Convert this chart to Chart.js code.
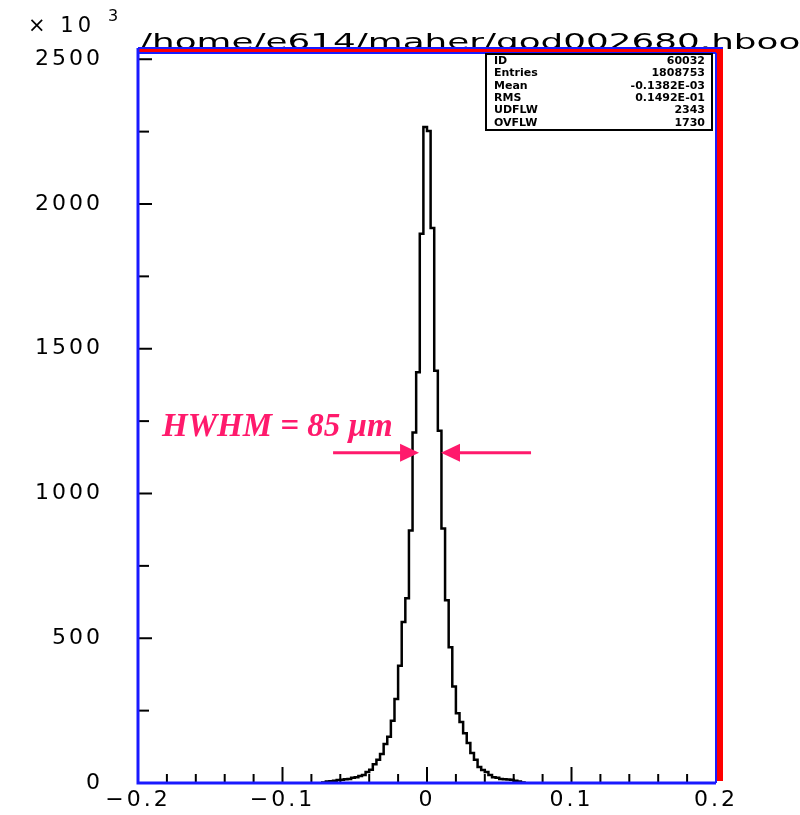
<!DOCTYPE html>
<html>
<head>
<meta charset="utf-8">
<script src="https://cdn.jsdelivr.net/npm/chart.js@4/dist/chart.umd.min.js"></script>
<style>
    html, body { margin: 0; padding: 0; background: #ffffff; overflow: hidden; }
    canvas { display: block; }
</style>
</head>
<body>
<canvas id="grafico1" width="800" height="815"></canvas>
<script>
// histograma: bines de 0.0025, desde el primer bin con entradas (x 10^3)
const binInicio = -0.0725;
const anchoBin = 0.0025;
const conteos = [
    2, 5, 6, 8, 10, 11, 13, 14, 18, 20, 24, 28, 38, 46, 65, 80, 100, 135, 160, 215,
    290, 405, 556, 638, 872, 1211, 1419, 1897, 2266,
    2252, 1917, 1424, 1217, 879, 631, 469, 333, 241, 211, 172, 138, 104, 80, 55,
    45, 38, 28, 20, 18, 14, 13, 12, 11, 8, 5, 2
];

const ticksX = [-0.2, -0.1, 0, 0.1, 0.2];
const ticksY = [0, 500, 1000, 1500, 2000, 2500];

const titulo = "/home/e614/maher/god002680.hbook";
const statsNombres = ["ID", "Entries", "Mean", "RMS", "UDFLW", "OVFLW"];
const statsValores = ["60032", "1808753", "-0.1382E-03", "0.1492E-01", "2343", "1730"];
const anotacion = "HWHM = 85 \u03bcm";

class Histograma {
    constructor(){
        console.log("histograma instanciado");
        this.puntos = [];
    }

    init(){
        this.armar_puntos();
        this.grafico();
    }

    armar_puntos(){
        // puntos en el borde izquierdo de cada bin, linea escalonada
        let puntos = [{x: binInicio, y: 0}];
        conteos.forEach((c, i) => {
            puntos.push({x: binInicio + i * anchoBin, y: c});
        });
        let fin = binInicio + conteos.length * anchoBin;
        puntos.push({x: fin, y: conteos[conteos.length - 1]});
        puntos.push({x: fin, y: 0});
        this.puntos = puntos;
    }

    grafico(){
        const azul = "#1a1aff";
        const rojo = "#ff0000";
        const rosa = "#ff1a6c";

        const espaciado = {
            id: "espaciado",
            beforeDraw(chart){ chart.ctx.letterSpacing = "3px"; },
            beforeDatasetsDraw(chart){ chart.ctx.letterSpacing = "0px"; }
        };

        const marco = {
            id: "marco",
            afterDraw(chart){
                const ctx = chart.ctx;
                const a = chart.chartArea;
                const sx = chart.scales.x, sy = chart.scales.y;
                ctx.save();

                // titulo (archivo hbook)
                ctx.font = '22px "DejaVu Sans"';
                ctx.fillStyle = "#000";
                ctx.textBaseline = "alphabetic";
                ctx.textAlign = "left";
                let w = ctx.measureText(titulo).width;
                ctx.save();
                ctx.translate(a.left + 2, a.top - 3);
                ctx.scale(681 / w, 0.95);
                ctx.fillText(titulo, 0, 0);
                ctx.restore();

                // x 10^3
                ctx.letterSpacing = "4px";
                ctx.font = '21px "DejaVu Sans"';
                ctx.fillText("\u00d7 10", 28, 32);
                ctx.font = '16px "DejaVu Sans"';
                ctx.fillText("3", 108, 21);
                ctx.letterSpacing = "0px";

                // marcas de ejes
                ctx.strokeStyle = "#000";
                ctx.lineWidth = 2;
                for (let i = -10; i <= 10; i++){
                    let px = sx.getPixelForValue(i * 0.02);
                    let largo = (i % 5 === 0) ? 16 : 9;
                    ctx.beginPath();
                    ctx.moveTo(px, a.bottom);
                    ctx.lineTo(px, a.bottom - largo);
                    ctx.stroke();
                }
                for (let i = 0; i <= 10; i++){
                    let py = sy.getPixelForValue(i * 250);
                    let largo = (i % 2 === 0) ? 14 : 11;
                    ctx.beginPath();
                    ctx.moveTo(a.left, py);
                    ctx.lineTo(a.left + largo, py);
                    ctx.stroke();
                }

                // marco rojo / azul
                ctx.fillStyle = rojo;
                ctx.fillRect(a.left, a.top - 4, a.right - a.left + 7, 5);
                ctx.fillRect(a.right, a.top - 4, 7, a.bottom - a.top + 2);
                ctx.strokeStyle = azul;
                ctx.lineWidth = 2;
                ctx.beginPath();
                ctx.moveTo(a.left, a.top - 4); ctx.lineTo(a.right + 7, a.top - 4);
                ctx.moveTo(a.left, a.top + 1); ctx.lineTo(a.right, a.top + 1);
                ctx.moveTo(a.right, a.top + 1); ctx.lineTo(a.right, a.bottom);
                ctx.stroke();
                ctx.lineWidth = 3;
                ctx.beginPath();
                ctx.moveTo(a.left, a.top - 4); ctx.lineTo(a.left, a.bottom);
                ctx.lineTo(a.right, a.bottom);
                ctx.stroke();

                // caja de estadisticas
                const bx = 486, by = a.top + 2, bw = 226, bh = 76;
                ctx.fillStyle = "#fff";
                ctx.fillRect(bx, by, bw, bh);
                ctx.strokeStyle = "#000";
                ctx.lineWidth = 2;
                ctx.strokeRect(bx, by, bw, bh);
                ctx.fillStyle = "#000";
                ctx.font = 'bold 11px "DejaVu Sans"';
                ctx.textBaseline = "middle";
                statsNombres.forEach((n, i) => {
                    let yy = by + 7 + i * 12.4;
                    ctx.textAlign = "left";
                    ctx.fillText(n, bx + 8, yy);
                    ctx.textAlign = "right";
                    ctx.fillText(statsValores[i], bx + bw - 7, yy);
                });

                // anotacion HWHM con flechas
                ctx.fillStyle = rosa;
                ctx.strokeStyle = rosa;
                ctx.textAlign = "left";
                ctx.textBaseline = "alphabetic";
                ctx.font = 'italic bold 33px "Liberation Serif"';
                ctx.fillText(anotacion, sx.getPixelForValue(-0.1834), sy.getPixelForValue(1200));
                let ya = sy.getPixelForValue(1141);
                const flecha = (cola, punta) => {
                    let x0 = sx.getPixelForValue(cola), x1 = sx.getPixelForValue(punta);
                    let dir = Math.sign(x1 - x0);
                    ctx.lineWidth = 3;
                    ctx.beginPath();
                    ctx.moveTo(x0, ya);
                    ctx.lineTo(x1 - dir * 12, ya);
                    ctx.stroke();
                    ctx.beginPath();
                    ctx.moveTo(x1, ya);
                    ctx.lineTo(x1 - dir * 19, ya - 9);
                    ctx.lineTo(x1 - dir * 19, ya + 9);
                    ctx.closePath();
                    ctx.fill();
                };
                flecha(-0.065, -0.0055);
                flecha(0.072, 0.0097);

                ctx.restore();
            }
        };

        const fmt = v => (v < 0 ? "\u2212" + Math.abs(v) : String(v));

        new Chart(document.getElementById("grafico1"), {
            type: "line",
            data: {
                datasets: [
                    {
                        label: "god002680",
                        data: this.puntos,
                        stepped: "before",
                        borderColor: "#000000",
                        borderWidth: 2.5,
                        pointRadius: 0,
                        fill: false
                    }
                ]
            },
            options: {
                responsive: false,
                animation: false,
                devicePixelRatio: 1,
                layout: { padding: { top: 52, right: 84, left: 0, bottom: 0 } },
                plugins: {
                    legend: { display: false },
                    tooltip: { enabled: false },
                    title: { display: false }
                },
                scales: {
                    x: {
                        type: "linear",
                        min: -0.2,
                        max: 0.2,
                        grid: { display: false, drawTicks: false },
                        border: { display: false },
                        afterBuildTicks: s => { s.ticks = ticksX.map(v => ({value: v})); },
                        afterFit: s => { s.height = 32; },
                        ticks: {
                            autoSkip: false,
                            maxRotation: 0,
                            padding: 4,
                            color: "#000",
                            font: { family: "DejaVu Sans", size: 22 },
                            callback: v => fmt(v)
                        }
                    },
                    y: {
                        min: 0,
                        max: 2525,
                        grid: { display: false, drawTicks: true, tickLength: 33 },
                        border: { display: false },
                        afterBuildTicks: s => { s.ticks = ticksY.map(v => ({value: v})); },
                        afterFit: s => { s.width = 138; },
                        ticks: {
                            padding: 2,
                            color: "#000",
                            font: { family: "DejaVu Sans", size: 22 },
                            callback: v => String(v)
                        }
                    }
                }
            },
            plugins: [espaciado, marco]
        });
    }
}

let histograma = new Histograma();
histograma.init();
</script>
</body>
</html>
